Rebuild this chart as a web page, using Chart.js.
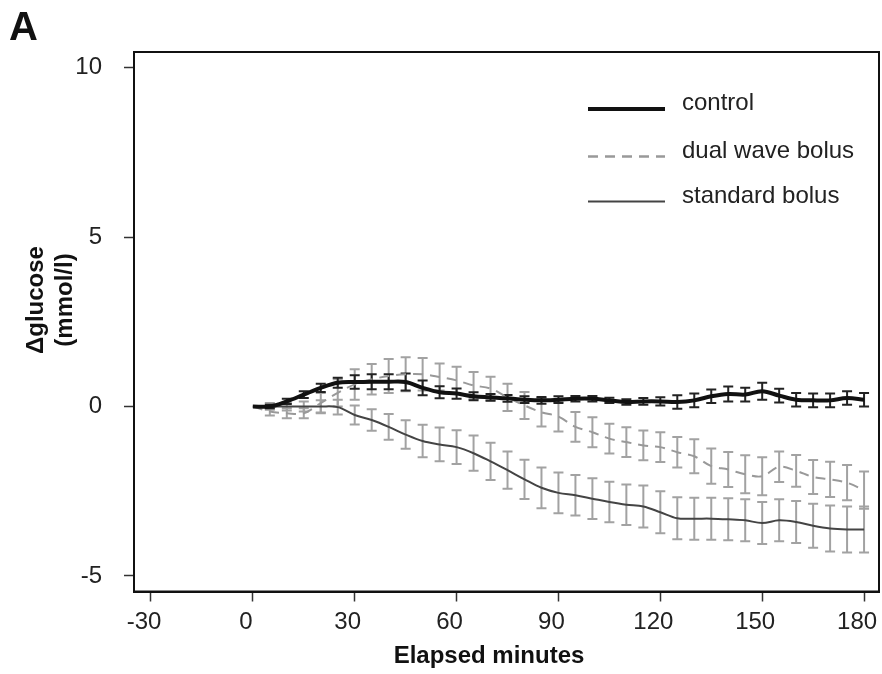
<!DOCTYPE html>
<html>
<head>
<meta charset="utf-8">
<script src="https://cdn.jsdelivr.net/npm/chart.js@4.4.0/dist/chart.umd.min.js"></script>
<style>
  html, body { margin: 0; padding: 0; background: #fff; }
  #wrap { width: 882px; height: 674px; }
</style>
</head>
<body>
<div id="wrap"><canvas id="glucoseChart" width="882" height="674"></canvas></div>
<script>
// minutes after the meal
const times = [0, 5, 10, 15, 20, 25, 30, 35, 40, 45, 50, 55, 60, 65, 70, 75, 80, 85, 90,
    95, 100, 105, 110, 115, 120, 125, 130, 135, 140, 145, 150, 155, 160, 165, 170, 175, 180];

const control = [0, 0, 0.15, 0.35, 0.55, 0.7, 0.72, 0.73, 0.73, 0.72, 0.55, 0.42, 0.38, 0.3, 0.27,
    0.24, 0.2, 0.18, 0.2, 0.23, 0.23, 0.18, 0.13, 0.15, 0.15, 0.13, 0.18, 0.3, 0.37, 0.35,
    0.45, 0.32, 0.2, 0.18, 0.18, 0.25, 0.2];
const controlErr = [0, 0.05, 0.08, 0.1, 0.12, 0.15, 0.2, 0.22, 0.22, 0.25, 0.22, 0.18, 0.15, 0.12,
    0.1, 0.1, 0.1, 0.1, 0.1, 0.08, 0.08, 0.08, 0.08, 0.1, 0.12, 0.2, 0.2, 0.2, 0.22, 0.2,
    0.25, 0.2, 0.2, 0.2, 0.2, 0.2, 0.2];

const dualWave = [0, -0.15, -0.2, -0.2, 0.1, 0.4, 0.65, 0.8, 0.9, 0.95, 0.95, 0.87, 0.77, 0.62,
    0.53, 0.27, 0.03, -0.17, -0.3, -0.6, -0.76, -0.95, -1.05, -1.15, -1.2, -1.35, -1.47,
    -1.76, -1.86, -2.0, -2.06, -1.78, -1.9, -2.08, -2.15, -2.25, -2.47];
const dualWaveErr = [0, 0.12, 0.15, 0.15, 0.3, 0.4, 0.45, 0.45, 0.5, 0.5, 0.48, 0.4, 0.4, 0.4,
    0.35, 0.4, 0.4, 0.42, 0.44, 0.44, 0.44, 0.44, 0.44, 0.44, 0.44, 0.45, 0.5, 0.52, 0.52,
    0.56, 0.56, 0.45, 0.47, 0.5, 0.52, 0.52, 0.55];

const standard = [0, 0, 0, 0, 0, -0.02, -0.25, -0.4, -0.6, -0.83, -1.02, -1.12, -1.2, -1.38,
    -1.62, -1.88, -2.15, -2.4, -2.55, -2.62, -2.72, -2.82, -2.9, -2.95, -3.12, -3.3, -3.31,
    -3.31, -3.33, -3.36, -3.44, -3.36, -3.41, -3.52, -3.6, -3.63, -3.63];
const standardErr = [0, 0.1, 0.12, 0.15, 0.18, 0.22, 0.28, 0.32, 0.38, 0.42, 0.48, 0.5, 0.5,
    0.52, 0.55, 0.55, 0.58, 0.6, 0.6, 0.6, 0.6, 0.6, 0.6, 0.62, 0.62, 0.62, 0.62, 0.62, 0.62,
    0.62, 0.62, 0.62, 0.62, 0.65, 0.68, 0.68, 0.68];

const xTicks = [-30, 0, 30, 60, 90, 120, 150, 180];
const yTicks = [-5, 0, 5, 10];

const FONT = "'Liberation Sans', Arial, Helvetica, sans-serif";

function points(values) {
    return times.map((t, i) => ({ x: t, y: values[i] }));
}

// error bars, frame, legend and titles drawn on top of chart.js's own scales
const extras = {
    id: 'extras',
    beforeDatasetsDraw(chart) {
        const ctx = chart.ctx;
        const xs = chart.scales.x, ys = chart.scales.y;
        // draw from last dataset to first so control ends on top
        for (let d = chart.data.datasets.length - 1; d >= 0; d--) {
            const ds = chart.data.datasets[d];
            ctx.save();
            ctx.strokeStyle = ds.barColor;
            ctx.lineWidth = ds.barWidth;
            ds.data.forEach((p, i) => {
                const e = ds.errors[i];
                if (!e) return;
                const x = xs.getPixelForValue(p.x);
                const y1 = ys.getPixelForValue(p.y + e);
                const y2 = ys.getPixelForValue(p.y - e);
                ctx.beginPath();
                ctx.moveTo(x, y1); ctx.lineTo(x, y2);
                ctx.moveTo(x - 5, y1); ctx.lineTo(x + 5, y1);
                ctx.moveTo(x - 5, y2); ctx.lineTo(x + 5, y2);
                ctx.stroke();
            });
            ctx.restore();
        }
    },
    afterDraw(chart) {
        const ctx = chart.ctx;
        const a = chart.chartArea;
        ctx.save();
        ctx.strokeStyle = '#111';
        ctx.lineWidth = 2;
        ctx.strokeRect(a.left, a.top, a.right - a.left, a.bottom - a.top);

        // legend
        const rows = [109, 156.5, 201.5];
        ctx.font = '24px ' + FONT;
        ctx.textBaseline = 'alphabetic';
        ctx.textAlign = 'left';
        chart.data.datasets.forEach((ds, i) => {
            ctx.strokeStyle = ds.borderColor;
            ctx.lineWidth = ds.legendWidth;
            ctx.setLineDash(ds.borderDash || []);
            ctx.beginPath();
            ctx.moveTo(588, rows[i]);
            ctx.lineTo(665, rows[i]);
            ctx.stroke();
            ctx.setLineDash([]);
            ctx.fillStyle = '#222';
            ctx.fillText(ds.label, 682, rows[i] + 1);
        });

        // panel letter
        ctx.fillStyle = '#111';
        ctx.font = 'bold 40px ' + FONT;
        ctx.fillText('A', 9, 40);

        // axis titles
        ctx.font = 'bold 24px ' + FONT;
        ctx.textAlign = 'center';
        ctx.fillText('Elapsed minutes', 489, 663);
        ctx.textBaseline = 'middle';
        ctx.translate(36, 300);
        ctx.rotate(-Math.PI / 2);
        ctx.fillText('\u0394glucose', 0, 0);
        ctx.fillText('(mmol/l)', 0, 29);
        ctx.restore();
    }
};

const ctx = document.getElementById('glucoseChart').getContext('2d');
new Chart(ctx, {
    type: 'line',
    data: {
        datasets: [{
            label: 'control',
            data: points(control),
            errors: controlErr,
            borderColor: '#111',
            borderWidth: 4,
            legendWidth: 4,
            barColor: '#222',
            barWidth: 2,
        }, {
            label: 'dual wave bolus',
            data: points(dualWave),
            errors: dualWaveErr,
            borderColor: '#999',
            borderWidth: 2,
            legendWidth: 2.5,
            borderDash: [10, 7],
            barColor: '#a2a2a2',
            barWidth: 2,
        }, {
            label: 'standard bolus',
            data: points(standard),
            errors: standardErr,
            borderColor: '#444',
            borderWidth: 2,
            legendWidth: 2,
            barColor: '#a2a2a2',
            barWidth: 2,
        }]
    },
    options: {
        responsive: false,
        animation: false,
        events: [],
        layout: { padding: { top: 52, right: 3, left: 0, bottom: 0 } },
        elements: {
            point: { radius: 0 },
            line: { tension: 0.35, fill: false }
        },
        plugins: {
            legend: { display: false },
            tooltip: { enabled: false }
        },
        scales: {
            x: {
                type: 'linear',
                min: -35,
                max: 184.4,
                afterBuildTicks: s => { s.ticks = xTicks.map(v => ({ value: v })); },
                afterFit: s => { s.height = 82.5; s.paddingLeft = 0; s.paddingRight = 0; },
                grid: { drawOnChartArea: false, drawTicks: true, tickLength: 10, tickColor: '#333', tickWidth: 1.5 },
                border: { display: true, color: '#111', width: 2 },
                ticks: { color: '#222', font: { family: FONT, size: 24 }, padding: 6, labelOffset: -7, maxRotation: 0, autoSkip: false }
            },
            y: {
                min: -5.46,
                max: 10.46,
                afterBuildTicks: s => { s.ticks = yTicks.map(v => ({ value: v })); },
                afterFit: s => { s.width = 134; s.paddingTop = 0; s.paddingBottom = 0; },
                grid: { drawOnChartArea: false, drawTicks: true, tickLength: 10, tickColor: '#333', tickWidth: 1.5 },
                border: { display: true, color: '#111', width: 2 },
                ticks: { color: '#222', font: { family: FONT, size: 24 }, padding: 22, autoSkip: false }
            }
        }
    },
    plugins: [extras]
});
</script>
</body>
</html>
